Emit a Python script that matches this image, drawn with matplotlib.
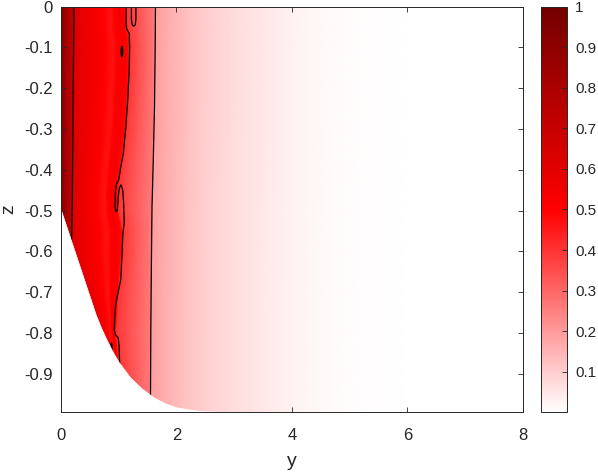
import numpy as np
import matplotlib
matplotlib.use('Agg')
import matplotlib.pyplot as plt
from matplotlib.colors import LinearSegmentedColormap
from matplotlib.patches import Ellipse

plt.rcParams['font.family'] = ['Liberation Sans', 'DejaVu Sans']

# ---- data ----
# horizontal profile of the field (reference coordinates = top row)
y_nodes = [0.0, 0.05, 0.1, 0.16, 0.215, 0.237, 0.3, 0.45, 0.6, 0.72, 0.8, 0.86, 0.93,
           1.0, 1.07, 1.118, 1.138, 1.2, 1.35, 1.5, 1.627, 1.647, 1.8, 2.0, 2.25, 2.6,
           3.0, 3.3, 3.7, 4.1, 4.7, 5.2, 6.0, 8.0]
u_nodes = [0.93, 0.87, 0.81, 0.76, 0.71, 0.62, 0.595, 0.56, 0.53, 0.505, 0.48, 0.465, 0.50,
           0.525, 0.50, 0.475, 0.40, 0.375, 0.335, 0.295, 0.265, 0.195, 0.17, 0.145, 0.118, 0.09,
           0.068, 0.055, 0.04, 0.025, 0.01, 0.004, 0.002, 0.001]

# depth rows and the positions of the features in each row
z_rows = [0, -0.05, -0.1, -0.2, -0.3, -0.4, -0.45, -0.5, -0.55, -0.6, -0.7, -0.8, -0.9, -1.0]
e_rows = [0, 0, 0, 0, 0, 0, 0, 0, 0, 0, 0.18, 0.43, 0.67, 0.67]
c1_rows = [0.226, 0.222, 0.218, 0.212, 0.206, 0.2, 0.197, 0.193, 0.188, 0.18, 0.41, 0.66, 0.9, 0.9]
c2_rows = [1.128, 1.15, 1.19, 1.17, 1.12, 1.03, 0.99, 0.99, 1.07, 1.06, 0.99, 0.95, 1.02, 1.02]
c3_rows = [1.637, 1.635, 1.632, 1.625, 1.61, 1.595, 1.585, 1.575, 1.572, 1.57, 1.563, 1.555, 1.552, 1.55]
ref_anchor = [0, 0.226, 1.128, 1.637, 8.0]

# bottom boundary of the domain
bnd_y = [0, 0.2, 0.4, 0.6, 0.7, 0.8, 0.9, 1.0, 1.2, 1.4, 1.6, 1.8, 2.0, 2.4, 3.0, 8.0]
bnd_z = [-0.5, -0.585, -0.67, -0.755, -0.79, -0.82, -0.848, -0.872, -0.91, -0.937,
         -0.958, -0.973, -0.983, -0.992, -0.995, -0.995]

# contour lines
c1_y = [0.226, 0.218, 0.21, 0.2, 0.193, 0.186, 0.18, 0.178]
c1_z = [0, -0.1, -0.25, -0.4, -0.5, -0.55, -0.59, -0.62]
c2_y = [1.128, 1.128, 1.14, 1.18, 1.19, 1.18, 1.156, 1.12, 1.08, 1.04, 1.0, 0.96, 0.945,
        0.936, 0.95, 0.975, 0.99, 1.01, 1.04, 1.07, 1.085, 1.095, 1.07, 1.06, 1.035, 0.99,
        0.95, 0.93, 0.925, 0.945, 0.99, 1.005, 1.015, 1.02, 1.022]
c2_z = [0, -0.045, -0.055, -0.065, -0.1, -0.16, -0.23, -0.3, -0.36, -0.39, -0.425, -0.435,
        -0.45, -0.49, -0.503, -0.5, -0.47, -0.445, -0.437, -0.45, -0.48, -0.53, -0.56, -0.6,
        -0.67, -0.70, -0.73, -0.76, -0.795, -0.805, -0.812, -0.83, -0.87, -0.9, -0.93]
c3_y = [1.637, 1.632, 1.62, 1.60, 1.577, 1.565, 1.556, 1.55]
c3_z = [0, -0.1, -0.245, -0.37, -0.49, -0.65, -0.8, -0.97]
loop_y = [1.22, 1.22, 1.232, 1.26, 1.288, 1.298, 1.298]
loop_z = [0, -0.03, -0.044, -0.048, -0.044, -0.03, 0]
blob_y = [1.055, 0.875]
blob_z = [-0.11, -0.838]
blob_w = [0.035, 0.025]
blob_h = [0.026, 0.028]

x_ticks = [0, 2, 4, 6, 8]
z_ticks = [-0.9, -0.8, -0.7, -0.6, -0.5, -0.4, -0.3, -0.2, -0.1, 0]
z_ticklabels = ['-0.9', '-0.8', '-0.7', '-0.6', '-0.5', '-0.4', '-0.3', '-0.2', '-0.1', '0']
cb_ticks = [0.1, 0.2, 0.3, 0.4, 0.5, 0.6, 0.7, 0.8, 0.9, 1.0]
cb_ticklabels = ['0.1', '0.2', '0.3', '0.4', '0.5', '0.6', '0.7', '0.8', '0.9', '1']

# ---- figure ----
TXT = '#262626'
W, H = 598, 473
fig = plt.figure(figsize=(W / 100, H / 100), dpi=100)
ax = fig.add_axes([61 / W, (H - 412.3) / H, 461.7 / W, 405.6 / H])
cax = fig.add_axes([540.7 / W, (H - 412.3) / H, 26 / W, 405.6 / H])

cmap = LinearSegmentedColormap.from_list('wr', [(0, (1, 1, 1)), (0.5, (1, 0, 0)), (1, (0.45, 0, 0))], N=256)

yn = np.array(y_nodes)
X = np.array([np.interp(yn, ref_anchor, [e, a, b, c, 8.0])
              for e, a, b, c in zip(e_rows, c1_rows, c2_rows, c3_rows)])
Z = np.repeat(np.array(z_rows, float)[:, None], len(yn), axis=1)
C = np.tile(np.array(u_nodes), (len(z_rows), 1))
mesh = ax.pcolormesh(X, Z, C, shading='gouraud', cmap=cmap, vmin=0, vmax=1, zorder=1)

lk = dict(color='black', lw=0.9, zorder=2.1)
ax.plot(c1_y, c1_z, **lk)
ax.plot(c2_y, c2_z, **lk)
ax.plot(c3_y, c3_z, **lk)
ax.plot(loop_y, loop_z, **lk)
for by, bz, bw, bh in zip(blob_y, blob_z, blob_w, blob_h):
    ax.add_patch(Ellipse((by, bz), bw, bh, facecolor='black', edgecolor='black', lw=0.6, zorder=2.1))

ax.fill_between(bnd_y, bnd_z, -1.1, facecolor='white', edgecolor='white', lw=0.6, zorder=2.3)

ax.set_xlim(0, 8)
ax.set_ylim(-0.995, 0)
ax.set_xticks(x_ticks)
ax.set_xticklabels([str(t) for t in x_ticks])
ax.set_yticks(z_ticks)
ax.set_yticklabels(z_ticklabels)
ax.tick_params(direction='in', length=3.3, width=0.6, color=TXT, labelcolor=TXT,
               labelsize=12, top=True, right=True)
ax.tick_params(axis='x', pad=11)
ax.tick_params(axis='y', pad=6)
for s in ax.spines.values():
    s.set_color(TXT)
    s.set_linewidth(0.7)
ax.set_xlabel('y', fontsize=14, color=TXT)
ax.set_ylabel('z', fontsize=14, color=TXT)
ax.xaxis.set_label_coords(0.5, -0.1)
ax.yaxis.set_label_coords(-0.095, 0.5)

cb = fig.colorbar(mesh, cax=cax)
cb.set_ticks(cb_ticks)
cb.set_ticklabels(cb_ticklabels)
cax.tick_params(direction='in', length=3.3, width=0.6, color=TXT, labelcolor=TXT,
                labelsize=11, pad=6)
cb.outline.set_edgecolor(TXT)
cb.outline.set_linewidth(0.7)

fig.savefig('out.png', dpi=100)
